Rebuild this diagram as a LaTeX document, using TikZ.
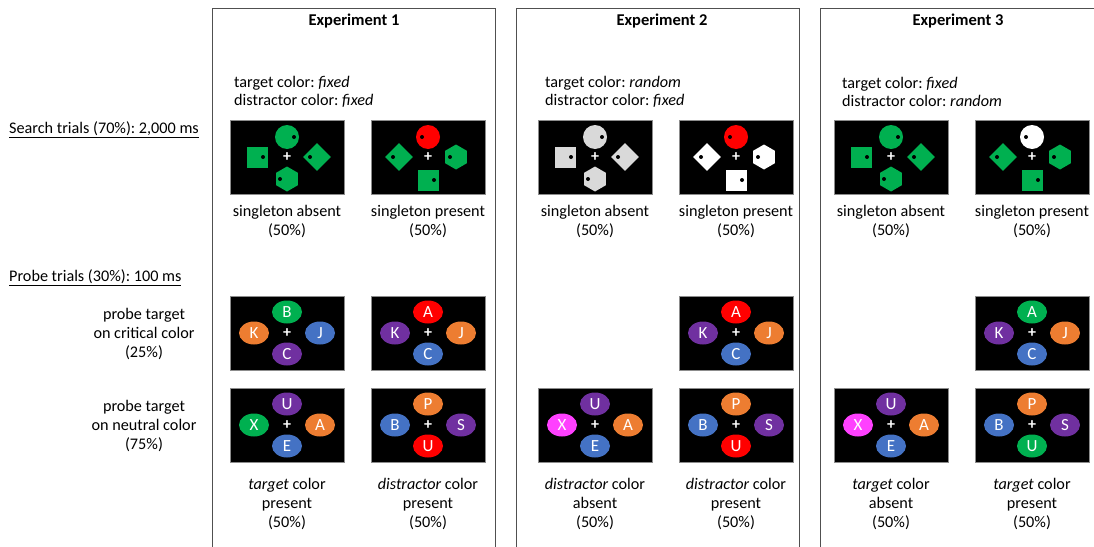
\documentclass[tikz,border=0pt]{standalone}
\usepackage{fontspec}
\setmainfont{Carlito}
\usetikzlibrary{shapes.geometric}
\definecolor{cgreen}{HTML}{00B050}
\definecolor{corange}{HTML}{ED7D31}
\definecolor{cblue}{HTML}{4472C4}
\definecolor{cpurple}{HTML}{7030A0}
\definecolor{cred}{HTML}{FF0000}
\definecolor{cmagenta}{HTML}{FF40FF}
\definecolor{cgrey}{HTML}{D9D9D9}
\definecolor{cframe}{HTML}{505050}

\tikzset{
  txt/.style={font=\fontsize{16.2}{18.6}\selectfont, inner sep=0},
  ttl/.style={font=\fontsize{16.5}{18.6}\selectfont\bfseries, inner sep=0},
  expbox/.style={draw=cframe, line width=1.1, anchor=north west, minimum width=283, minimum height=570, inner sep=0},
  panel/.style={draw=black!45, line width=0.6, fill=black, minimum width=114, minimum height=74, inner sep=0},
  fixcross/.style={text=white, font=\fontsize{16}{16}\selectfont\bfseries, inner sep=0},
  scirc/.style={circle, minimum size=24, inner sep=0},
  ssq/.style={rectangle, minimum size=21, inner sep=0},
  sdia/.style={diamond, minimum size=28, inner sep=0},
  shex/.style={regular polygon, regular polygon sides=6, shape border rotate=30, minimum size=25, inner sep=0},
  sdot/.style={circle, fill=black, minimum size=4, inner sep=0},
  pdisc/.style={ellipse, minimum width=30, minimum height=23, inner sep=0, text=white, font=\fontsize{17}{17}\selectfont},
}

\newcommand\fixcross[1]{\node[fixcross] (#1-x) at (#1.center) {+};}
\newcommand\sdot[3]{\node[sdot] (#1) at ([shift={(#3)}]#2.center) {};}
\newcommand\searchA[3]{%
  \node[panel] (#1) at (#2) {};
  \fixcross{#1}
  \node[scirc, fill=#3] (#1-t) at ([shift={(0,-20)}]#1.center) {};
  \sdot{#1-td}{#1-t}{7,0}
  \node[ssq, fill=#3] (#1-l) at ([shift={(-30,0)}]#1.center) {};
  \sdot{#1-ld}{#1-l}{6,0}
  \node[sdia, fill=#3] (#1-r) at ([shift={(30,0)}]#1.center) {};
  \sdot{#1-rd}{#1-r}{-7,0}
  \node[shex, fill=#3] (#1-b) at ([shift={(0,22)}]#1.center) {};
  \sdot{#1-bd}{#1-b}{-7,0}
}
\newcommand\searchP[4]{%
  \node[panel] (#1) at (#2) {};
  \fixcross{#1}
  \node[scirc, fill=#3] (#1-t) at ([shift={(0,-20)}]#1.center) {};
  \sdot{#1-td}{#1-t}{-6,0}
  \node[sdia, fill=#4] (#1-l) at ([shift={(-29,0)}]#1.center) {};
  \sdot{#1-ld}{#1-l}{-6,0}
  \node[shex, fill=#4] (#1-r) at ([shift={(28,0)}]#1.center) {};
  \sdot{#1-rd}{#1-r}{-6,0}
  \node[ssq, fill=#4] (#1-b) at ([shift={(0,23)}]#1.center) {};
  \sdot{#1-bd}{#1-b}{6,0}
}
\newcommand\pdisc[5]{\node[pdisc, fill=#4] (#1) at ([shift={(#3)}]#2.center) {#5};}
\newcommand\probepanel[6]{%
  \node[panel] (#1) at (#2) {};
  \fixcross{#1}
  \pdisc{#1-t}{#1}{0,-21}#3
  \pdisc{#1-l}{#1}{-33,0}#4
  \pdisc{#1-r}{#1}{33,0}#5
  \pdisc{#1-b}{#1}{0,21}#6
}

\begin{document}
\frenchspacing
\begin{tikzpicture}[x=1pt, y=-1pt]
\useasboundingbox (0,0) rectangle (1094,546);

% experiment frames
\node[expbox] (exp1) at (212,8) {};
\node[expbox] (exp2) at (516,8) {};
\node[expbox] (exp3) at (820,8) {};
\node[ttl] (ttl1) at (354,21) {Experiment 1};
\node[ttl] (ttl2) at (662,21) {Experiment 2};
\node[ttl] (ttl3) at (958,21) {Experiment 3};

% conditions
\node[txt, anchor=west, align=left] (cond1) at (234,92) {target color: \textit{fixed}\\distractor color: \textit{fixed}};
\node[txt, anchor=west, align=left] (cond2) at (545,92) {target color: \textit{random}\\distractor color: \textit{fixed}};
\node[txt, anchor=west, align=left] (cond3) at (842,92) {target color: \textit{fixed}\\distractor color: \textit{random}};

% left labels
\node[txt, anchor=west] (search) at (9,130) {\underline{Search trials (70\%): 2,000 ms}};
\node[txt, anchor=west] (probe) at (9,278) {\underline{Probe trials (30\%): 100 ms}};
\node[txt, align=center] (crit) at (144,334) {probe target\\on critical color\\(25\%)};
\node[txt, align=center] (neut) at (144,426) {probe target\\on neutral color\\(75\%)};

% search panels
\searchA{s1a}{287,157}{cgreen}
\searchP{s1p}{428,157}{cred}{cgreen}
\searchA{s2a}{595,157}{cgrey}
\searchP{s2p}{736,157}{cred}{white}
\searchA{s3a}{891,157}{cgreen}
\searchP{s3p}{1032,157}{white}{cgreen}

% search labels
\node[txt, align=center] (ls1a) at (287,221.5) {singleton absent\\(50\%)};
\node[txt, align=center] (ls1p) at (428,221.5) {singleton present\\(50\%)};
\node[txt, align=center] (ls2a) at (595,221.5) {singleton absent\\(50\%)};
\node[txt, align=center] (ls2p) at (736,221.5) {singleton present\\(50\%)};
\node[txt, align=center] (ls3a) at (891,221.5) {singleton absent\\(50\%)};
\node[txt, align=center] (ls3p) at (1032,221.5) {singleton present\\(50\%)};

% probe panels: critical color
\probepanel{p1c}{287,333}{{cgreen}{B}}{{corange}{K}}{{cblue}{J}}{{cpurple}{C}}
\probepanel{p1d}{428,333}{{cred}{A}}{{cpurple}{K}}{{corange}{J}}{{cblue}{C}}
\probepanel{p2d}{736,333}{{cred}{A}}{{cpurple}{K}}{{corange}{J}}{{cblue}{C}}
\probepanel{p3d}{1032,333}{{cgreen}{A}}{{cpurple}{K}}{{corange}{J}}{{cblue}{C}}

% probe panels: neutral color
\probepanel{p1n}{287,425}{{cpurple}{U}}{{cgreen}{X}}{{corange}{A}}{{cblue}{E}}
\probepanel{p1m}{428,425}{{corange}{P}}{{cblue}{B}}{{cpurple}{S}}{{cred}{U}}
\probepanel{p2n}{595,425}{{cpurple}{U}}{{cmagenta}{X}}{{corange}{A}}{{cblue}{E}}
\probepanel{p2m}{736,425}{{corange}{P}}{{cblue}{B}}{{cpurple}{S}}{{cred}{U}}
\probepanel{p3n}{891,425}{{cpurple}{U}}{{cmagenta}{X}}{{corange}{A}}{{cblue}{E}}
\probepanel{p3m}{1032,425}{{corange}{P}}{{cblue}{B}}{{cpurple}{S}}{{cgreen}{U}}

% probe labels
\node[txt, align=center] (lp1n) at (287,504) {\textit{target} color\\present\\(50\%)};
\node[txt, align=center] (lp1m) at (428,504) {\textit{distractor} color\\present\\(50\%)};
\node[txt, align=center] (lp2n) at (595,504) {\textit{distractor} color\\absent\\(50\%)};
\node[txt, align=center] (lp2m) at (736,504) {\textit{distractor} color\\present\\(50\%)};
\node[txt, align=center] (lp3n) at (891,504) {\textit{target} color\\absent\\(50\%)};
\node[txt, align=center] (lp3m) at (1032,504) {\textit{target} color\\present\\(50\%)};
\end{tikzpicture}
\end{document}
